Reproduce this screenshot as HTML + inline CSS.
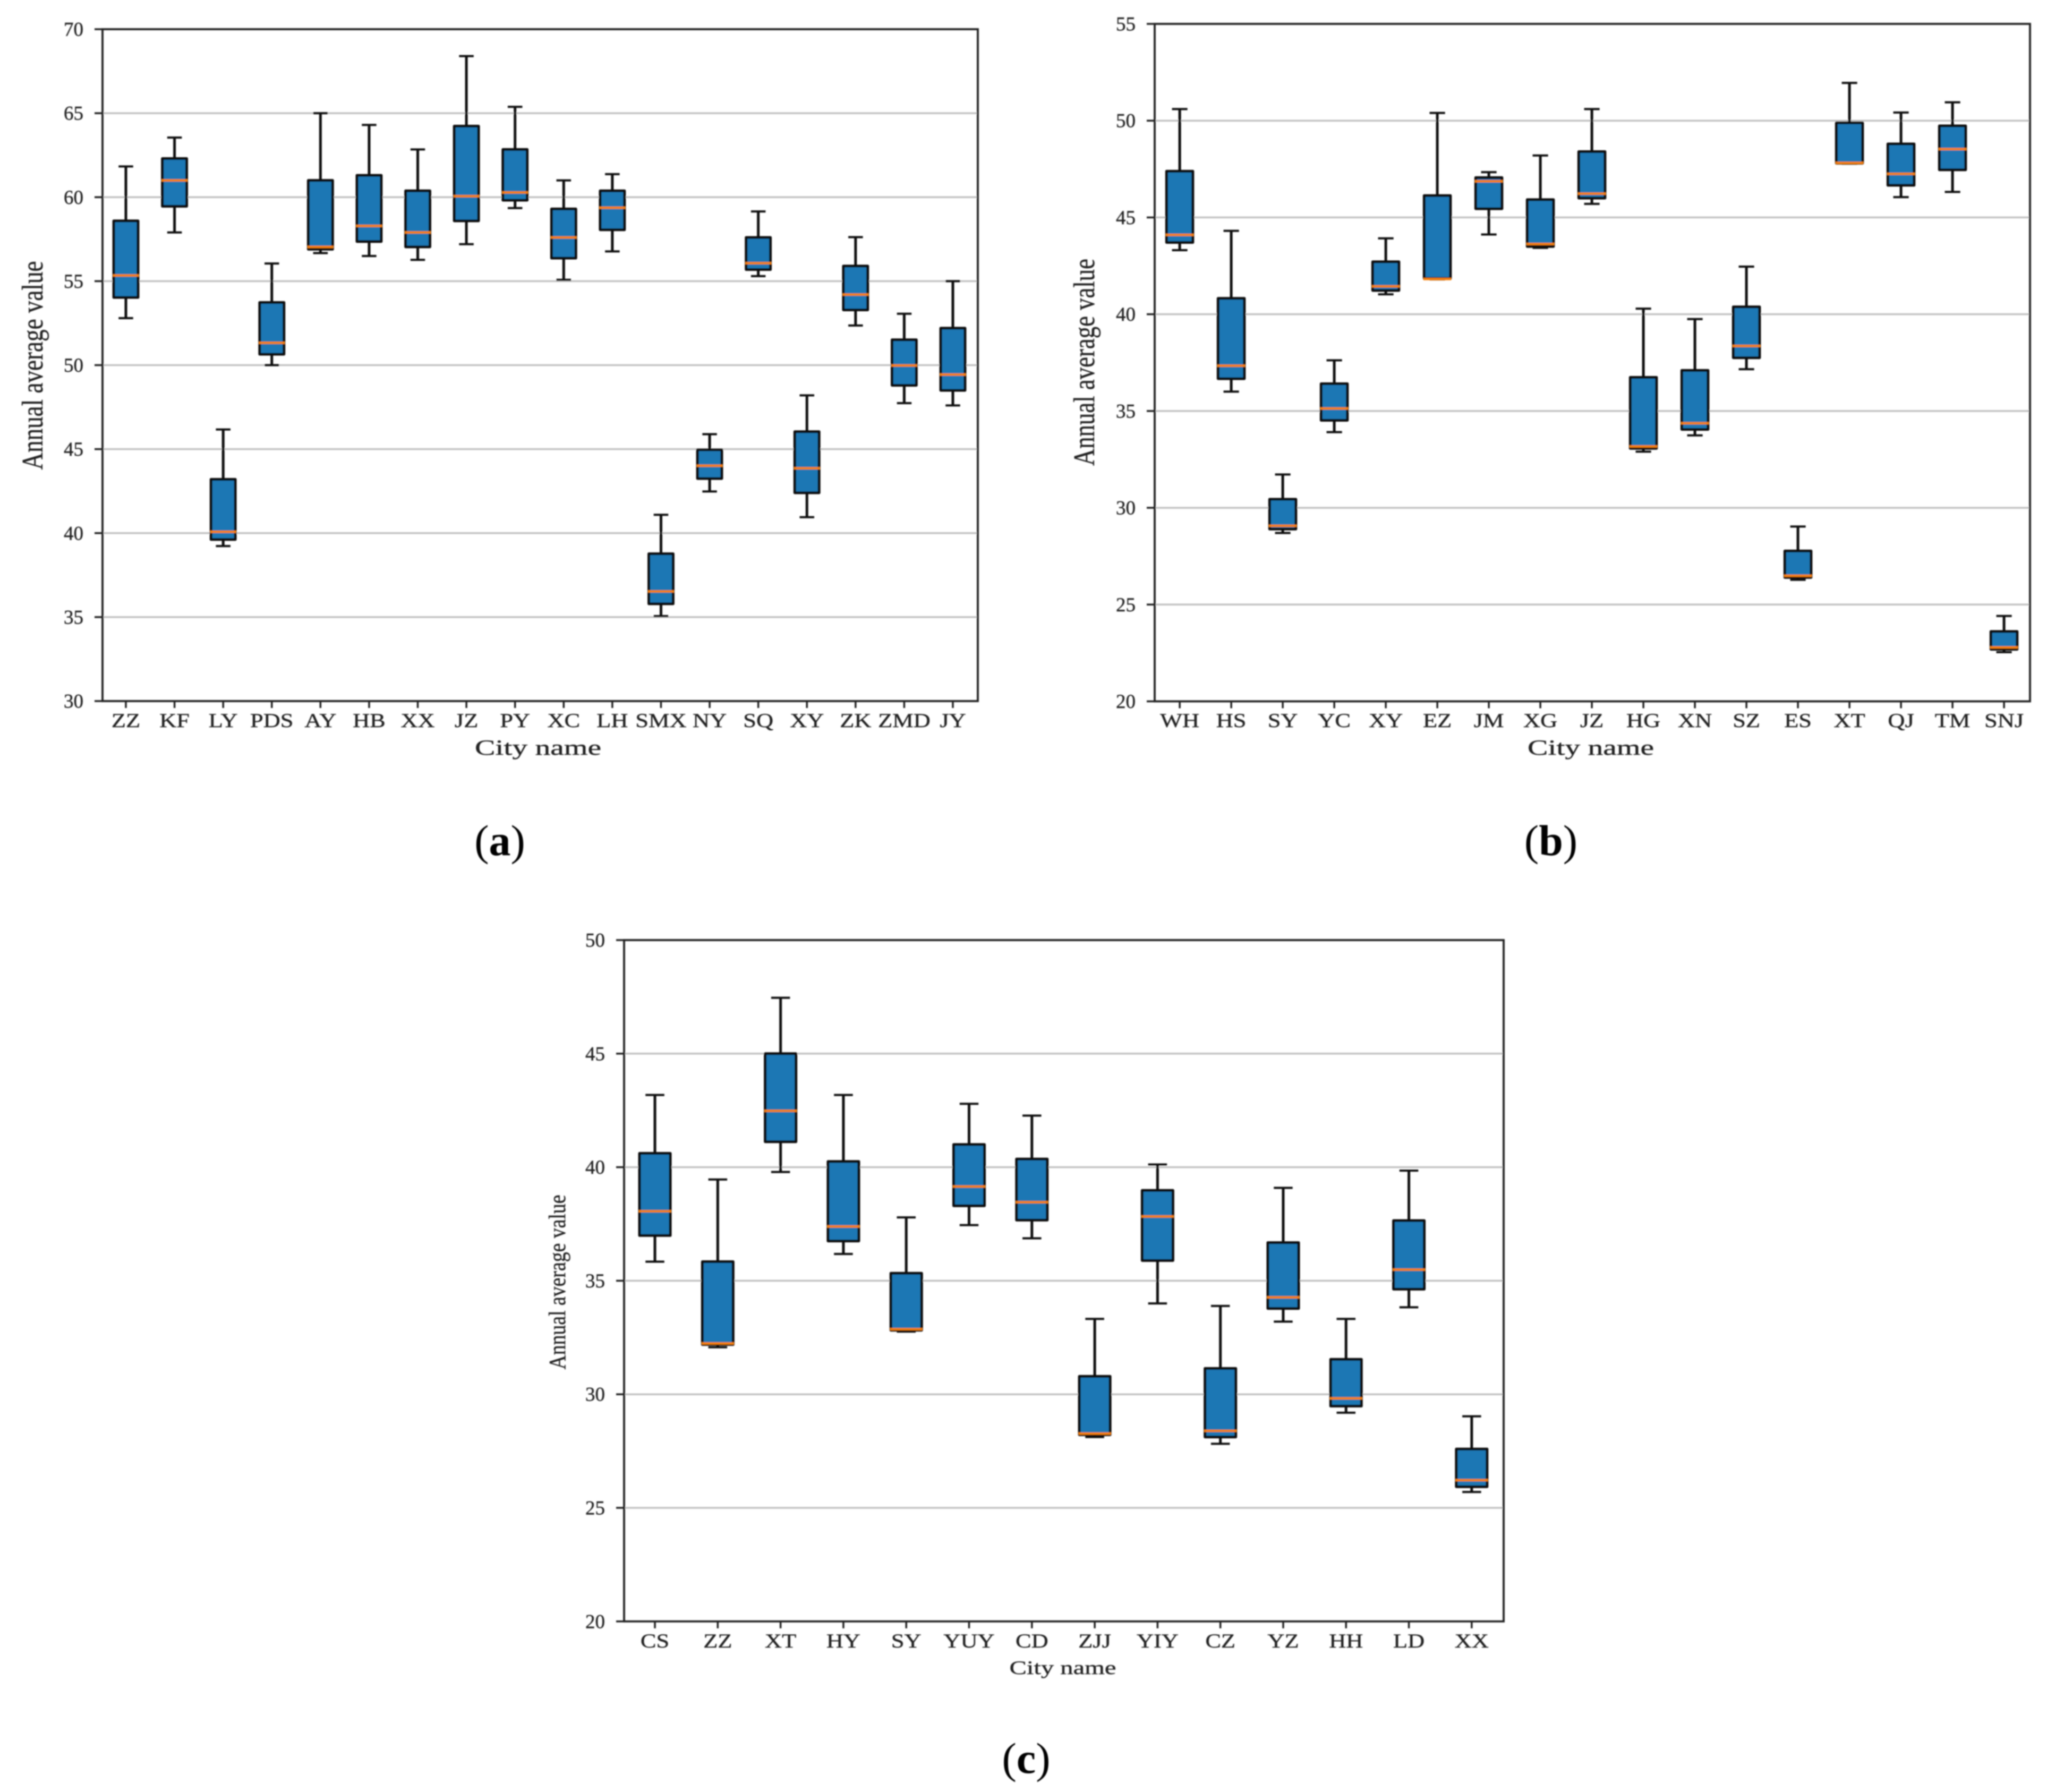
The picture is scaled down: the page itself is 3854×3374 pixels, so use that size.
<!DOCTYPE html>
<html lang="en">
<head>
<meta charset="utf-8">
<title>Annual average value by city, box plots</title>
<style>
  html, body { margin: 0; padding: 0; background: #fff; }
  svg { display: block; }
  text { font-family: "Liberation Serif", serif; fill: #222; stroke: #222; stroke-width: 0.4px; }
  .caption { fill: #000; stroke: none; }
</style>
</head>
<body>
<svg id="figure" xmlns="http://www.w3.org/2000/svg" width="3854" height="3374" viewBox="0 0 3854 3374">
  <defs>
    <filter id="soft" filterUnits="userSpaceOnUse" x="0" y="0" width="3854" height="3374">
      <feGaussianBlur stdDeviation="1.1"/>
    </filter>
  </defs>
  <rect x="0" y="0" width="3854" height="3374" fill="#fff"/>
  <g id="root" filter="url(#soft)">
    <g id="panel-a">
      <text transform="translate(80,688) rotate(-90)" text-anchor="middle" font-size="56" textLength="393" lengthAdjust="spacingAndGlyphs">Annual average value</text>
      <text x="1013" y="1421" text-anchor="middle" font-size="40" textLength="238" lengthAdjust="spacingAndGlyphs">City name</text>
    </g>
    <g id="panel-b">
      <text transform="translate(2060,682) rotate(-90)" text-anchor="middle" font-size="56" textLength="390" lengthAdjust="spacingAndGlyphs">Annual average value</text>
      <text x="2995" y="1421" text-anchor="middle" font-size="40" textLength="238" lengthAdjust="spacingAndGlyphs">City name</text>
    </g>
    <g id="panel-c">
      <text transform="translate(1064,2414) rotate(-90)" text-anchor="middle" font-size="44" textLength="329" lengthAdjust="spacingAndGlyphs">Annual average value</text>
      <text x="2001" y="3152" text-anchor="middle" font-size="36" textLength="201" lengthAdjust="spacingAndGlyphs">City name</text>
    </g>
    <text class="caption" x="941" y="1610" text-anchor="middle" font-size="82">(<tspan font-weight="bold">a</tspan>)</text>
    <text class="caption" x="2920" y="1610" text-anchor="middle" font-size="82">(<tspan font-weight="bold">b</tspan>)</text>
    <text class="caption" x="1932" y="3338" text-anchor="middle" font-size="82">(<tspan font-weight="bold">c</tspan>)</text>
  </g>
</svg>
<script>
// ---- Panel (a) data ----
const categoriesA = ["ZZ","KF","LY","PDS","AY","HB","XX","JZ","PY","XC","LH","SMX","NY","SQ","XY","ZK","ZMD","JY"];
const whiskerHighA = [61.83,63.55,46.17,56.05,65.0,64.3,62.84,68.4,65.38,61.0,61.37,41.09,45.89,59.15,48.2,57.62,53.06,55.0];
const upperQuartileA = [58.59,62.3,43.2,53.73,61.0,61.3,60.38,64.23,62.84,59.3,60.38,38.77,44.96,57.6,46.04,55.9,51.51,52.2];
const medianA = [55.34,61.0,40.08,51.33,57.04,58.29,57.9,60.06,60.28,57.6,59.37,36.53,44.01,56.07,43.86,54.2,49.98,49.44];
const lowerQuartileA = [54.03,59.46,39.62,50.65,56.9,57.36,57.04,58.59,59.82,56.37,58.06,35.79,43.25,55.69,42.4,53.29,48.8,48.5];
const whiskerLowA = [52.8,57.9,39.23,50.0,56.67,56.5,56.27,57.2,59.35,55.08,56.77,35.06,42.48,55.3,40.95,52.36,47.74,47.6];
const yTicksA = [30,35,40,45,50,55,60,65,70];

// ---- Panel (b) data ----
const categoriesB = ["WH","HS","SY","YC","XY","EZ","JM","XG","JZ","HG","XN","SZ","ES","XT","QJ","TM","SNJ"];
const whiskerHighB = [50.6,44.31,31.72,37.62,43.92,50.4,47.34,48.2,50.6,40.29,39.75,42.46,29.03,51.95,50.42,50.95,24.41];
const upperQuartileB = [47.39,40.82,30.44,36.41,42.71,46.13,47.06,45.92,48.4,36.74,37.1,40.38,27.77,49.89,48.8,49.73,23.61];
const medianB = [44.1,37.34,29.07,35.13,41.44,41.82,46.87,43.63,46.23,33.17,34.37,38.36,26.49,47.82,47.25,48.53,22.79];
const lowerQuartileB = [43.71,36.67,28.9,34.52,41.23,41.85,45.45,43.5,46.0,33.07,34.05,37.75,26.4,47.8,46.66,47.46,22.69];
const whiskerLowB = [43.31,36.0,28.7,33.91,41.03,41.8,44.12,43.43,45.7,32.9,33.74,37.16,26.28,47.78,46.05,46.32,22.54];
const yTicksB = [20,25,30,35,40,45,50,55];

// ---- Panel (c) data ----
const categoriesC = ["CS","ZZ","XT","HY","SY","YUY","CD","ZJJ","YIY","CZ","YZ","HH","LD","XX"];
const whiskerHighC = [43.18,39.46,47.46,43.18,37.79,42.79,42.27,33.32,40.12,33.89,39.09,33.32,39.85,29.03];
const upperQuartileC = [40.61,35.84,45.0,40.25,35.33,41.0,40.36,30.79,38.98,31.14,36.68,31.54,37.65,27.59];
const medianC = [38.06,32.24,42.48,37.39,32.87,39.15,38.46,28.27,37.83,28.39,34.27,29.82,35.49,26.22];
const lowerQuartileC = [36.99,32.19,41.12,36.75,32.82,38.3,37.67,28.22,35.89,28.12,33.78,29.48,34.63,25.93];
const whiskerLowC = [35.84,32.07,39.79,36.18,32.76,37.45,36.87,28.12,34.0,27.82,33.2,29.19,33.83,25.7];
const yTicksC = [20,25,30,35,40,45,50];

const SVG_NS = "http://www.w3.org/2000/svg";

function make(tag, attrs, parent) {
  const el = document.createElementNS(SVG_NS, tag);
  for (const k in attrs) el.setAttribute(k, attrs[k]);
  parent.appendChild(el);
  return el;
}

function drawPanel(cfg) {
  const host = document.getElementById(cfg.id);
  const n = cfg.categories.length;
  // axis functions
  const xOf = i => cfg.xRange[0] + (i + 0.5) * (cfg.xRange[1] - cfg.xRange[0]) / n;
  const yMin = cfg.yTicks[0];
  const yMax = cfg.yTicks[cfg.yTicks.length - 1];
  const yOf = v => cfg.yRange[0] + (v - yMin) * (cfg.yRange[1] - cfg.yRange[0]) / (yMax - yMin);
  const step = (cfg.xRange[1] - cfg.xRange[0]) / n;
  const top = yOf(yMax), bottom = yOf(yMin);

  // gridlines, y ticks, y labels
  cfg.yTicks.forEach(t => {
    const y = yOf(t);
    if (t !== yMin && t !== yMax) {
      const grid = make("line", {x1: cfg.spineLeft, x2: cfg.spineRight, y1: y, y2: y, stroke: "#c2c2c2", "stroke-width": 3.5}, host);
      
      
    }
    const tick = make("line", {x1: cfg.spineLeft - 15, x2: cfg.spineLeft, y1: y, y2: y, stroke: "#222", "stroke-width": 3.5}, host);
    
    
    const label = make("text", {x: cfg.yLabelRight, y: y + 12.5, "text-anchor": "end", "font-size": 37}, host);
    
    
    label.textContent = String(t);
  });

  // boxes and x ticks
  cfg.categories.forEach((name, i) => {
    const x = xOf(i);
    const halfBox = step * cfg.boxFrac / 2;
    const halfCap = step * 0.15;

    const tick = make("line", {x1: x, x2: x, y1: bottom, y2: bottom + 13, stroke: "#222", "stroke-width": 3.5}, host);
    
    

    const label = make("text", {transform: "translate(" + x + "," + cfg.xLabelBase + ") scale(1.2,1)", "text-anchor": "middle", "font-size": 37}, host);
    
    
    label.textContent = name;

    const group = make("g", {}, host);
    
    

    const upper = make("line", {x1: x, x2: x, y1: yOf(cfg.high[i]), y2: yOf(cfg.q3[i]), stroke: "#111", "stroke-width": 5}, group);
    
    

    const lower = make("line", {x1: x, x2: x, y1: yOf(cfg.q1[i]), y2: yOf(cfg.low[i]), stroke: "#111", "stroke-width": 5}, group);
    
    

    const capHigh = make("line", {x1: x - halfCap, x2: x + halfCap, y1: yOf(cfg.high[i]), y2: yOf(cfg.high[i]), stroke: "#111", "stroke-width": 4}, group);
    
    

    const capLow = make("line", {x1: x - halfCap, x2: x + halfCap, y1: yOf(cfg.low[i]), y2: yOf(cfg.low[i]), stroke: "#111", "stroke-width": 4}, group);
    
    

    const box = make("rect", {x: x - halfBox, y: yOf(cfg.q3[i]), width: 2 * halfBox, height: yOf(cfg.q1[i]) - yOf(cfg.q3[i]), fill: "#1f77b4", stroke: "#111", "stroke-width": 5, "stroke-linejoin": "round"}, group);
    
    

    const med = make("line", {x1: x - halfBox - 1.5, x2: x + halfBox + 1.5, y1: yOf(cfg.median[i]), y2: yOf(cfg.median[i]), stroke: "#f57f0c", "stroke-width": 4.5}, group);
    
    
  });

  // spines
  const frame = make("rect", {x: cfg.spineLeft, y: top, width: cfg.spineRight - cfg.spineLeft, height: bottom - top, fill: "none", stroke: "#222", "stroke-width": 3.8}, host);
  
  
}

drawPanel({
  id: "panel-a", categories: categoriesA, yTicks: yTicksA,
  high: whiskerHighA, q3: upperQuartileA, median: medianA, q1: lowerQuartileA, low: whiskerLowA,
  xRange: [191.2, 1839.8], yRange: [1320, 55], spineLeft: 193, spineRight: 1841,
  yLabelRight: 157, xLabelBase: 1369, boxFrac: 0.5
});
drawPanel({
  id: "panel-b", categories: categoriesB, yTicks: yTicksB,
  high: whiskerHighB, q3: upperQuartileB, median: medianB, q1: lowerQuartileB, low: whiskerLowB,
  xRange: [2172.6, 3821.6], yRange: [1320.5, 45], spineLeft: 2174, spineRight: 3822,
  yLabelRight: 2138, xLabelBase: 1369, boxFrac: 0.51
});
drawPanel({
  id: "panel-c", categories: categoriesC, yTicks: yTicksC,
  high: whiskerHighC, q3: upperQuartileC, median: medianC, q1: lowerQuartileC, low: whiskerLowC,
  xRange: [1173.9, 2830], yRange: [3052.8, 1770], spineLeft: 1175, spineRight: 2831,
  yLabelRight: 1139, xLabelBase: 3102, boxFrac: 0.49
});
</script>
</body>
</html>
